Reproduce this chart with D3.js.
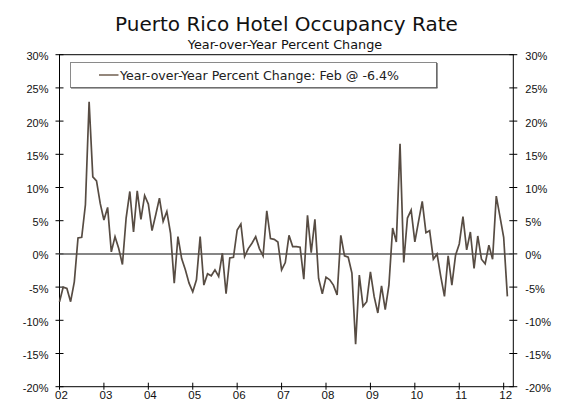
<!DOCTYPE html>
<html>
<head>
<meta charset="utf-8">
<script src="https://cdn.jsdelivr.net/npm/d3@7"></script>
<style>
  body { margin: 0; background: #fff; }
  svg { display: block; font-family: "DejaVu Sans", Verdana, sans-serif; }
  .line { fill: none; stroke: #574c43; stroke-width: 1.7; }
  .zero { stroke: #5e5e5e; stroke-width: 1.5; }
  .frame { stroke: #000; stroke-width: 1; fill: none; }
  .tick-label { font-size: 11px; fill: #111; }
</style>
</head>
<body>
<div id="chart"></div>
<script>
// monthly yoy % change, jan 2002 .. feb 2012
const startYear = 2002;
const occupancy = [
  -7.2, -5.0, -5.2, -7.2, -4.2, 2.4, 2.5, 7.4, 22.9, 11.6, 11.0, 7.6,
  5.1, 7.0, 0.3, 2.6, 0.8, -1.6, 5.4, 9.4, 3.3, 9.5, 5.2, 8.8,
  7.5, 3.5, 5.9, 8.4, 4.9, 6.4, 3.1, -4.4, 2.6, -0.7, -2.4, -4.4,
  -5.7, -3.9, 2.6, -4.7, -3.0, -3.3, -2.4, -3.4, 0.1, -6.0, -0.6, -0.5,
  3.6, 4.5, -0.4, 0.8, 1.6, 2.6, 0.8, -0.3, 6.5, 2.3, 2.2, 1.8,
  -2.4, -1.3, 2.8, 1.1, 1.1, 1.0, -3.8, 5.8, 0.2, 5.2, -3.7, -6.0,
  -3.5, -3.9, -4.7, -6.2, 2.8, -0.3, -0.5, -2.9, -13.6, -3.2, -7.9, -7.2,
  -2.7, -6.4, -8.9, -4.8, -8.4, -4.7, 3.9, 1.8, 16.6, -1.3, 5.4, 6.6,
  1.8, 4.9, 7.9, 3.2, 3.5, -0.8, 0.0, -3.4, -6.4, -0.3, -4.7, -0.2,
  1.5, 5.6, 0.6, 3.3, -2.2, 2.7, -0.8, -1.5, 1.3, -0.8, 8.7, 5.6,
  2.5, -6.4
];
const yearLabels = ["02", "03", "04", "05", "06", "07", "08", "09", "10", "11", "12"];
const yTicks = [-20, -15, -10, -5, 0, 5, 10, 15, 20, 25, 30];

const title = "Puerto Rico Hotel Occupancy Rate";
const subtitle = "Year-over-Year Percent Change";
const legendText = "Year-over-Year Percent Change: Feb @ -6.4%";

let W = 568, H = 410;
let plotL = 59.5, plotR = 513.3, plotT = 54.7, plotB = 386.7;

let svg = d3.select("#chart").append("svg")
    .attr("width", W)
    .attr("height", H);

// scales: x is month index from jan 2002
let x = d3.scaleLinear()
    .domain([0, 122.6])
    .range([plotL, plotR]);

let y = d3.scaleLinear()
    .domain([-20, 30])
    .range([plotB, plotT]);

// titles
svg.append("text")
  .attr("x", 286.5).attr("y", 31)
  .attr("text-anchor", "middle")
  .style("font-size", "20px")
  .style("fill", "#111")
  .text(title);

svg.append("text")
  .attr("x", 285).attr("y", 48.5)
  .attr("text-anchor", "middle")
  .style("font-size", "12.8px")
  .style("fill", "#111")
  .text(subtitle);

// left and right axes (ticks cross the line)
let yLeft = d3.axisLeft(y).tickValues(yTicks).tickSize(0).tickFormat(d => d + "%");
let yRight = d3.axisRight(y).tickValues(yTicks).tickSize(0).tickFormat(d => d + "%");

let gl = svg.append("g").attr("transform", "translate(" + plotL + ",0)").call(yLeft);
gl.select(".domain").remove();
gl.selectAll("text").attr("class", "tick-label").attr("x", -11).attr("dy", "0.45em");

let gr = svg.append("g").attr("transform", "translate(" + plotR + ",0)").call(yRight);
gr.select(".domain").remove();
gr.selectAll("text").attr("class", "tick-label").attr("x", 12).attr("dy", "0.45em");

svg.selectAll(".ytick")
  .data(yTicks)
  .enter().append("line")
  .attr("class", "frame")
  .attr("x1", plotL - 4).attr("x2", plotL + 4)
  .attr("y1", d => y(d)).attr("y2", d => y(d));

svg.selectAll(".ytick-r")
  .data(yTicks)
  .enter().append("line")
  .attr("class", "frame")
  .attr("x1", plotR - 4).attr("x2", plotR + 4)
  .attr("y1", d => y(d)).attr("y2", d => y(d));

// bottom axis with year labels
let yearIdx = yearLabels.map((d, i) => i * 12);
let xAxis = d3.axisBottom(x).tickValues(yearIdx).tickSize(0)
    .tickFormat((d, i) => yearLabels[i]);

let gb = svg.append("g").attr("transform", "translate(1.5," + plotB + ")").call(xAxis);
gb.select(".domain").remove();
gb.selectAll("text").attr("class", "tick-label").style("font-size", "11.5px")
  .attr("y", 4.5).attr("dy", "0.71em");

svg.selectAll(".xtick")
  .data(yearIdx)
  .enter().append("line")
  .attr("class", "frame")
  .attr("x1", d => x(d)).attr("x2", d => x(d))
  .attr("y1", plotB - 4).attr("y2", plotB + 3);

// frame
svg.append("rect")
  .attr("class", "frame")
  .attr("x", plotL).attr("y", plotT)
  .attr("width", plotR - plotL).attr("height", plotB - plotT);

// zero line
svg.append("line")
  .attr("class", "zero")
  .attr("x1", plotL).attr("x2", plotR)
  .attr("y1", y(0)).attr("y2", y(0));

// series
let line = d3.line()
    .x((d, i) => x(i))
    .y(d => y(d));

svg.append("path")
  .datum(occupancy)
  .attr("class", "line")
  .attr("d", line);

// legend box
let lg = svg.append("g").attr("transform", "translate(70,62)");
lg.append("rect")
  .attr("x", 0.5).attr("y", 0.5)
  .attr("width", 366).attr("height", 25)
  .attr("fill", "#fff")
  .attr("stroke", "#8a8a8a");
lg.append("line")
  .attr("x1", 1).attr("x2", 367.5).attr("y1", 26).attr("y2", 26)
  .attr("stroke", "#555").attr("stroke-width", 1.2);
lg.append("line")
  .attr("x1", 367).attr("x2", 367).attr("y1", 1).attr("y2", 26)
  .attr("stroke", "#555").attr("stroke-width", 1.2);
lg.append("line")
  .attr("x1", 29).attr("x2", 48.5).attr("y1", 13).attr("y2", 13)
  .attr("stroke", "#7a6a5c").attr("stroke-width", 1.6);
lg.append("text")
  .attr("x", 50).attr("y", 18)
  .style("font-size", "12.6px")
  .style("fill", "#222")
  .text(legendText);
</script>
</body>
</html>
